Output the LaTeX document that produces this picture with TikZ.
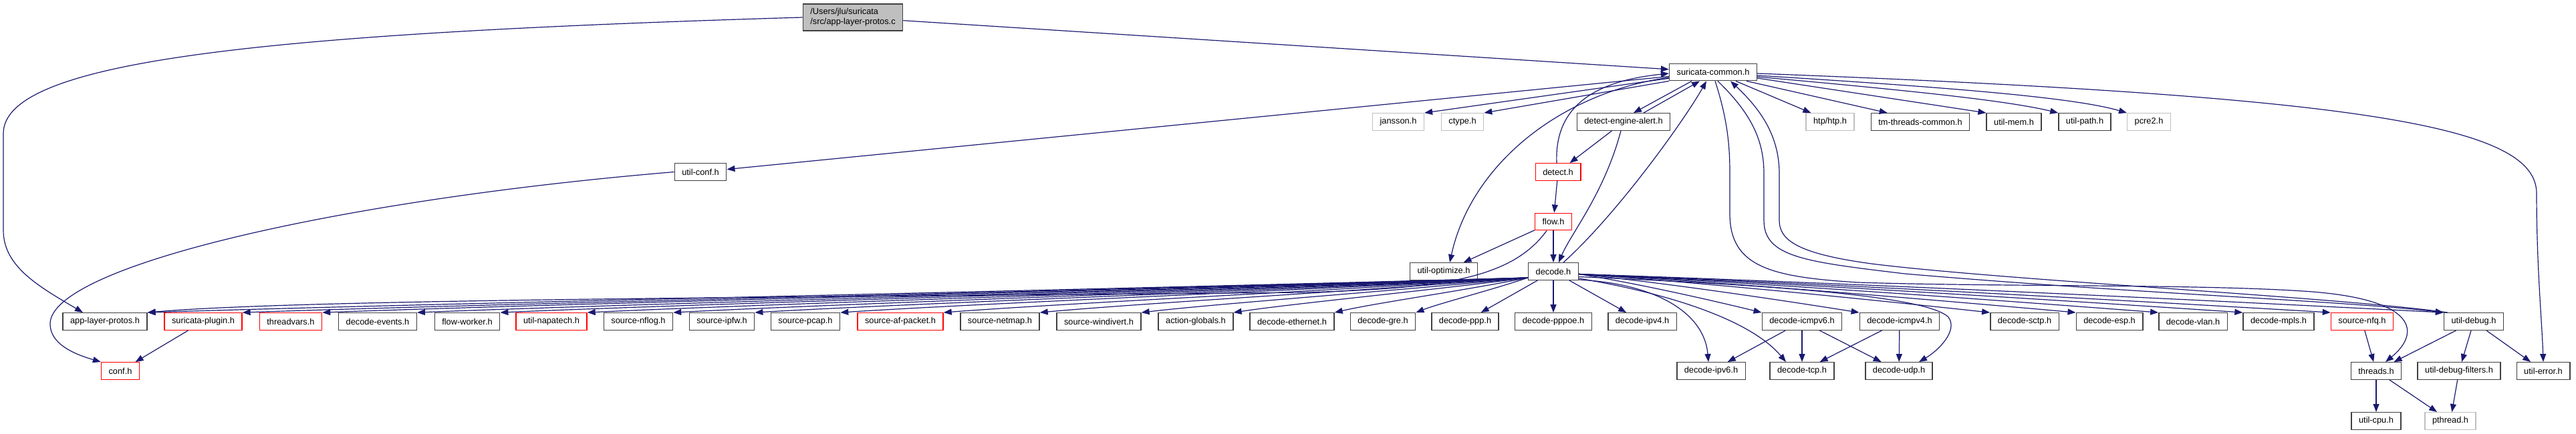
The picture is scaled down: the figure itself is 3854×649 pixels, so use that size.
\documentclass[tikz,border=0pt]{standalone}
\usepackage{fontspec}
\setmainfont{Liberation Sans}
\usepackage{tikz}
\usetikzlibrary{arrows.meta,calc}
\definecolor{edgeblue}{HTML}{191970}
\definecolor{boxline}{HTML}{404040}
\definecolor{truncred}{HTML}{FF0000}
\definecolor{sysgray}{HTML}{BFBFBF}
\tikzset{
  hdr/.style={draw=boxline, line width=1.4pt, fill=white, inner xsep=11pt, inner ysep=0pt, minimum height=25.5pt, font=\fontsize{12.8}{15}\selectfont},
  hdrred/.style={hdr, draw=truncred},
  hdrsys/.style={hdr, draw=sysgray},
  rootbox/.style={hdr, fill=sysgray, align=left, minimum height=40pt},
  line/.style={draw=edgeblue, line width=1.2pt, -{Triangle[length=12pt,width=9pt]}}
}
\begin{document}
\begin{tikzpicture}[x=1pt,y=-1pt]
  \useasboundingbox (0,0) rectangle (3854,649);
  % top rows
  \node[rootbox] (root) at (1276,26) {/Users/jlu/suricata\\/src/app-layer-protos.c};
  \node[hdr] (sc) at (2563,108) {suricata-common.h};
  \node[hdrsys] (jansson) at (2092,182.5) {jansson.h};
  \node[hdrsys] (ctype) at (2188,182.5) {ctype.h};
  \node[hdr] (dea) at (2429,182.5) {detect-engine-alert.h};
  \node[hdrsys] (htp) at (2738,182.5) {htp/htp.h};
  \node[hdr] (tmtc) at (2873,182.5) {tm-threads-common.h};
  \node[hdr] (umem) at (3013,182.5) {util-mem.h};
  \node[hdr] (upath) at (3119,182.5) {util-path.h};
  \node[hdrsys] (pcre) at (3215,182.5) {pcre2.h};
  \node[hdr] (uconf) at (1048,257.5) {util-conf.h};
  \node[hdrred] (detect) at (2331,257.5) {detect.h};
  \node[hdrred] (flow) at (2324,332) {flow.h};
  \node[hdr] (uopt) at (2160,406.5) {util-optimize.h};
  \node[hdr] (decode) at (2324,406.5) {decode.h};
  % row of headers under decode.h
  \node[hdr] (alp) at (157,481.5) {app-layer-protos.h};
  \node[hdrred] (splug) at (304,481.5) {suricata-plugin.h};
  \node[hdrred] (tvars) at (435,481.5) {threadvars.h};
  \node[hdr] (devents) at (565,481.5) {decode-events.h};
  \node[hdr] (fworker) at (699,481.5) {flow-worker.h};
  \node[hdrred] (unapa) at (825,481.5) {util-napatech.h};
  \node[hdr] (snflog) at (955,481.5) {source-nflog.h};
  \node[hdr] (sipfw) at (1080,481.5) {source-ipfw.h};
  \node[hdr] (spcap) at (1205,481.5) {source-pcap.h};
  \node[hdrred] (safp) at (1347,481.5) {source-af-packet.h};
  \node[hdr] (snetmap) at (1496,481.5) {source-netmap.h};
  \node[hdr] (swdiv) at (1644,481.5) {source-windivert.h};
  \node[hdr] (aglob) at (1789,481.5) {action-globals.h};
  \node[hdr] (deth) at (1933,481.5) {decode-ethernet.h};
  \node[hdr] (dgre) at (2069,481.5) {decode-gre.h};
  \node[hdr] (dppp) at (2192,481.5) {decode-ppp.h};
  \node[hdr] (dpppoe) at (2324,481.5) {decode-pppoe.h};
  \node[hdr] (dipv4) at (2457,481.5) {decode-ipv4.h};
  \node[hdr] (dicmp6) at (2696,481.5) {decode-icmpv6.h};
  \node[hdr] (dicmp4) at (2842,481.5) {decode-icmpv4.h};
  \node[hdr] (dsctp) at (3029,481.5) {decode-sctp.h};
  \node[hdr] (desp) at (3156,481.5) {decode-esp.h};
  \node[hdr] (dvlan) at (3281,481.5) {decode-vlan.h};
  \node[hdr] (dmpls) at (3409,481.5) {decode-mpls.h};
  \node[hdrred] (snfq) at (3534,481.5) {source-nfq.h};
  \node[hdr] (udebug) at (3701,481.5) {util-debug.h};
  % lower rows
  \node[hdrred] (conf) at (180,555.5) {conf.h};
  \node[hdr] (dipv6) at (2560,555.5) {decode-ipv6.h};
  \node[hdr] (dtcp) at (2696,555.5) {decode-tcp.h};
  \node[hdr] (dudp) at (2841,555.5) {decode-udp.h};
  \node[hdr] (threads) at (3555,555.5) {threads.h};
  \node[hdr] (udfilt) at (3679,555.5) {util-debug-filters.h};
  \node[hdr] (uerr) at (3805,555.5) {util-error.h};
  \node[hdr] (ucpu) at (3555,630.5) {util-cpu.h};
  \node[hdrsys] (pthread) at (3666,630.5) {pthread.h};

  % root file
  \draw[line] (root) -- (sc);
  \draw[line] (root.west) .. controls (400,50) and (5,90) .. (5,200) -- (5,345) .. controls (5,400) and (60,430) .. ($(alp.north)+(-33,0)$);
  % suricata-common.h
  \draw[line] (sc) -- (jansson.north east);
  \draw[line] (sc.south west) -- (ctype.north east);
  \draw[line] ($(sc.south)+(-32,0)$) -- ($(dea.north)+(15,0)$);
  \draw[line] ($(dea.north)+(30,0)$) -- ($(sc.south)+(-20,0)$);
  \draw[line] ($(sc.south)+(34,0)$) -- ($(htp.north west)+(8,0)$);
  \draw[line] ($(sc.south east)+(-16,0)$) -- ($(tmtc.north west)+(25,0)$);
  \draw[line] ($(sc.east)+(0,9)$) -- (umem.north west);
  \draw[line] ($(sc.east)+(0,7)$) .. controls (2850,135) and (3000,150) .. (upath.north west);
  \draw[line] ($(sc.east)+(0,5)$) .. controls (2900,130) and (3100,145) .. (pcre.north west);
  \draw[line] ($(sc.east)+(0,2)$) .. controls (3550,145) and (3795,190) .. (3795,290) .. controls (3795,400) and (3803,480) .. (uerr.north);
  \draw[line] (sc) -- (uconf);
  \draw[line] ($(sc.west)+(0,8)$) .. controls (2330,140) and (2200,250) .. ($(uopt.north)+(9,0)$);
  \draw[line] ($(sc.south)+(3,0)$) .. controls (2585,180) and (2588,220) .. (2588,260) -- (2588,320) .. controls (2588,400) and (2650,415) .. (2780,423) .. controls (3000,430) and (3300,425) .. (3460,437) .. controls (3620,450) and (3620,500) .. ($(threads.north)+(14,0)$);
  \draw[line] ($(sc.south)+(7,0)$) .. controls (2620,170) and (2639,210) .. (2639,260) -- (2639,330) .. controls (2639,385) and (2700,392) .. (2850,410) .. controls (3200,440) and (3500,450) .. (udebug.north west);
  \draw[line] ($(udebug.north west)+(6,0)$) .. controls (3500,445) and (3000,420) .. (2800,395) .. controls (2690,380) and (2662,360) .. (2662,330) -- (2662,260) .. controls (2662,200) and (2630,160) .. ($(sc.south)+(26,0)$);
  % detect and flow
  \draw[line] ($(detect.north)+(-2,0)$) .. controls (2325,150) and (2400,120) .. ($(sc.west)+(0,2)$);
  \draw[line] (dea) -- (detect);
  \draw[line] ($(dea.south)+(-4,0)$) .. controls (2400,290) and (2350,350) .. ($(decode.north)+(8,0)$);
  \draw[line] ($(decode.north)+(15,0)$) .. controls (2420,320) and (2520,180) .. ($(sc.south)+(-10,0)$);
  \draw[line] (detect) -- (flow);
  \draw[line] (flow) -- (uopt);
  \draw[line] (flow) -- (decode);
  \draw[line] ($(flow.south)+(-10,0)$) .. controls (2260,420) and (2150,432) .. (1950,438) .. controls (1200,445) and (450,448) .. (alp.north east);
  \draw[line] (uconf.west) .. controls (500,300) and (75,400) .. (75,485) .. controls (75,515) and (110,530) .. (conf.north west);
  \draw[line] (splug) -- (conf);
  % decode.h
  \foreach \tgt/\dist in {alp/720, splug/670, tvars/630, devents/580, fworker/540, unapa/490, snflog/450, sipfw/400, spcap/360, safp/305, snetmap/255, swdiv/200, aglob/155, deth/100, dgre/60}
    \draw[line] ($(decode.south west)+(0,-4)$) .. controls +(-\dist,20) and +(0.6*\dist,-14) .. (\tgt.north east);
  \foreach \tgt/\dist in {dicmp6/95, dicmp4/147, dsctp/215, desp/260, dvlan/304, dmpls/348, snfq/394, udebug/453}
    \draw[line] ($(decode.east)+(0,4)$) .. controls +(\dist,15) and +(-0.6*\dist,-14) .. (\tgt.north west);
  \draw[line] (decode) -- (dppp);
  \draw[line] (decode) -- (dpppoe);
  \draw[line] (decode) -- (dipv4);
  \draw[line] ($(decode.south east)+(0,-1)$) .. controls (2480,425) and (2550,470) .. ($(dipv6.north)+(-4,0)$);
  \draw[line] ($(decode.south east)+(0,-3)$) .. controls (2500,440) and (2620,480) .. ($(dtcp.north)+(-24,0)$);
  \draw[line] ($(decode.east)+(0,8)$) .. controls (2600,425) and (2880,440) .. (2915,475) .. controls (2930,495) and (2900,525) .. ($(dudp.north)+(30,0)$);
  % lower levels
  \draw[line] (dicmp6) -- (dipv6);
  \draw[line] (dicmp6) -- (dtcp);
  \draw[line] (dicmp6) -- (dudp);
  \draw[line] (dicmp4) -- (dtcp);
  \draw[line] (dicmp4) -- (dudp);
  \draw[line] (snfq) -- (threads);
  \draw[line] (udebug) -- (threads);
  \draw[line] (udebug) -- (udfilt);
  \draw[line] (udebug) -- (uerr);
  \draw[line] (threads) -- (ucpu);
  \draw[line] (threads) -- (pthread);
  \draw[line] (udfilt) -- (pthread);
\end{tikzpicture}
\end{document}
